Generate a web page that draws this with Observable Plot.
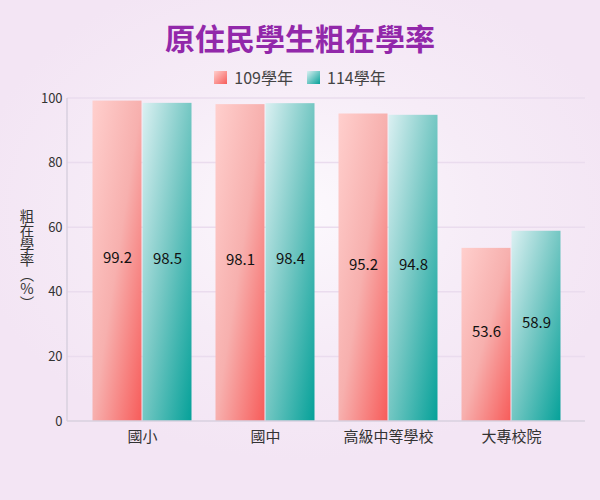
<!DOCTYPE html>
<html>
<head>
<meta charset="utf-8">
<script src="https://cdn.jsdelivr.net/npm/d3@7"></script>
<script src="https://cdn.jsdelivr.net/npm/@observablehq/plot@0.6"></script>
<style>
  body { margin: 0; }
  #wrap {
    width: 600px; height: 500px; overflow: hidden;
    background: radial-gradient(ellipse 55% 50% at 50% 42%, #fcf9fd 0%, #f6ecf7 55%, #f3e5f4 100%);
    font-family: "Noto Sans CJK TC", "Noto Sans", sans-serif;
  }
  #title {
    padding-top: 7px; height: 60px; line-height: 60px;
    text-align: center; font-size: 30px; font-weight: bold; color: #9228aa;
  }
  #legend {
    height: 20px; line-height: 20px; text-align: center; font-size: 16px; color: #444;
    display: flex; justify-content: center; align-items: center; gap: 14px;
  }
  .item { display: flex; align-items: center; }
  .sw { width: 13px; height: 13px; margin-right: 7px; display: inline-block; }
</style>
</head>
<body>
<div id="wrap">
  <div id="title">原住民學生粗在學率</div>
  <div id="legend"></div>
  <div id="chart"></div>
</div>
<script>
const categories = ["國小", "國中", "高級中等學校", "大專校院"];
const years = ["109學年", "114學年"];
const values109 = [99.2, 98.1, 95.2, 53.6];
const values114 = [98.5, 98.4, 94.8, 58.9];
const yTicks = [0, 20, 40, 60, 80, 100];
const yLabel = "粗在學率（%）";
const gradients = {
  "109學年": ["#ffcfcd", "#f7b0ae", "#f75c5a"],
  "114學年": ["#dbf0f2", "#74c7c3", "#05a199"]
};

const data = categories.flatMap((c, i) => [
  {category: c, year: years[0], value: values109[i]},
  {category: c, year: years[1], value: values114[i]}
]);

// Legend
const legend = d3.select("#legend");
years.forEach((y, i) => {
  const g = gradients[y];
  const it = legend.append("div").attr("class", "item");
  it.append("span").attr("class", "sw")
    .style("background", `linear-gradient(135deg, ${g[0]}, ${g[2]})`);
  it.append("span").text(y);
});

const mL = 67, mR = 15, W = 600;
const padInner = 0.19, padOuter = 0.185;
// the y axis is attached to the first facet; offset its labels past the outer band padding
const step = (W - mL - mR) / (categories.length - padInner + 2 * padOuter);
const outerPx = step * padOuter;

const chart = Plot.plot({
  width: W,
  height: 360,
  marginTop: 11,
  marginBottom: 26,
  marginLeft: mL,
  marginRight: mR,
  style: {background: "transparent", color: "#333", fontFamily: "'Noto Sans CJK TC', sans-serif"},
  fx: {domain: categories, paddingInner: padInner, paddingOuter: padOuter, label: null, axis: null},
  x: {domain: years, padding: 0, axis: null},
  y: {domain: [0, 100], label: null, axis: null},
  color: {domain: years, range: years.map((y, i) => `url(#grad${i})`)},
  marks: [
    Plot.barY(data, {fx: "category", x: "year", y: "value", fill: "year", insetLeft: 0.5, insetRight: 0.5}),
    Plot.text(data, {fx: "category", x: "year", y: d => d.value / 2, text: d => d.value.toFixed(1), fill: "#111", fontSize: 15, dy: -3}),
    Plot.axisY({ticks: yTicks, tickSize: 0, tickPadding: 7 + outerPx, fontSize: 13, label: null}),
    Plot.axisFx({anchor: "bottom", tickSize: 0, tickPadding: 10, fontSize: 15, label: null})
  ]
});

document.getElementById("chart").appendChild(chart);

const svg = d3.select(chart);
const defs = svg.insert("defs", ":first-child");
years.forEach((y, i) => {
  const g = gradients[y];
  const lg = defs.append("linearGradient").attr("id", `grad${i}`)
    .attr("x1", 0).attr("y1", 0).attr("x2", 1).attr("y2", 1);
  lg.append("stop").attr("offset", "0%").attr("stop-color", g[0]);
  lg.append("stop").attr("offset", "50%").attr("stop-color", g[1]);
  lg.append("stop").attr("offset", "100%").attr("stop-color", g[2]);
});

const ys = chart.scale("y");
const y0 = ys.apply(0), y100 = ys.apply(100);
// full-width gridlines drawn behind the bars
const grid = svg.insert("g", "defs + *");
grid.selectAll("line").data(yTicks.filter(t => t > 0)).join("line")
  .attr("x1", mL).attr("x2", W - mR)
  .attr("y1", d => ys.apply(d)).attr("y2", d => ys.apply(d))
  .attr("stroke", "#eadcee").attr("stroke-width", 1.5);
// axis lines
svg.append("line")
  .attr("x1", mL).attr("x2", W - mR).attr("y1", y0).attr("y2", y0)
  .attr("stroke", "#d9d0df").attr("stroke-width", 1.5);
svg.append("line")
  .attr("x1", mL).attr("x2", mL).attr("y1", y100).attr("y2", y0)
  .attr("stroke", "#d9d0df").attr("stroke-width", 1.5);

svg.append("text")
  .attr("x", 27).attr("y", (y0 + y100) / 2)
  .attr("text-anchor", "middle")
  .style("writing-mode", "vertical-rl")
  .style("text-orientation", "upright")
  .attr("font-size", 14.5)
  .attr("fill", "#333")
  .text(yLabel);
</script>
</body>
</html>
